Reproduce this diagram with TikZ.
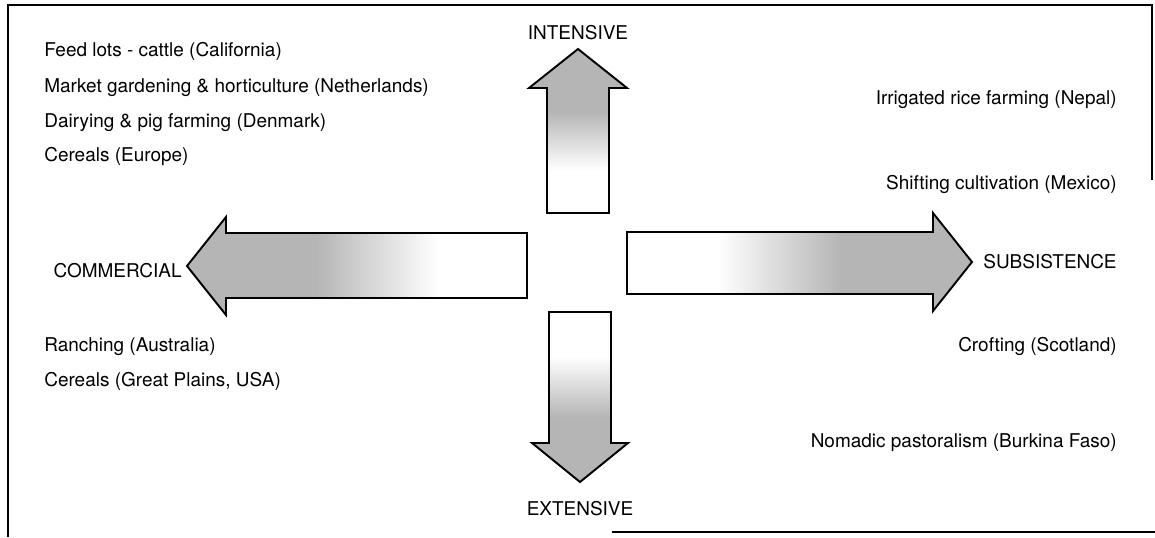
\documentclass[tikz,border=0pt]{standalone}
\usepackage{fontspec}
\setmainfont{TeX Gyre Heros}
\definecolor{stipple}{gray}{0.71}
% white at the tail, grey towards the tip
\pgfdeclarehorizontalshading{fadetip}{100bp}{color(0bp)=(white); color(38bp)=(white); color(56bp)=(stipple); color(100bp)=(stipple)}

\begin{document}
\begin{tikzpicture}[x=0.02cm, y=-0.02cm,
  bigarrow/.style={draw=black, line width=1.1pt, line join=miter, shading=fadetip},
  lbl/.style={inner sep=0pt, font=\fontsize{10.8}{13}\selectfont},
  frameline/.style={line width=1pt}]
\useasboundingbox (0,0) rectangle (1155,537);

% frame
\draw[frameline] (8,537) -- (8,5) -- (1152,5) -- (1152,180);
\draw[frameline] (612,532) -- (1155,532);

% intensive arrow (up)
\shadedraw[bigarrow, shading angle=90] (547,213) -- (547,88) -- (529,88) -- (578,49)
  -- (627,88) -- (609,88) -- (609,213) -- cycle;
% extensive arrow (down)
\shadedraw[bigarrow, shading angle=270] (549,312) -- (549,443) -- (532,443) -- (580,482)
  -- (628,443) -- (611,443) -- (611,312) -- cycle;
% commercial arrow (left)
\shadedraw[bigarrow, shading angle=180] (527,233) -- (226,233) -- (226,217) -- (187,266)
  -- (226,315) -- (226,298) -- (527,298) -- cycle;
% subsistence arrow (right)
\shadedraw[bigarrow] (627,232) -- (933,232) -- (933,213) -- (972,262)
  -- (933,311) -- (933,294) -- (627,294) -- cycle;

% axis labels
\node[lbl, anchor=base] (intensive) at (578,40) {INTENSIVE};
\node[lbl, anchor=base] (extensive) at (580,515) {EXTENSIVE};
\node[lbl, anchor=base east] (commercial) at (182,277) {COMMERCIAL};
\node[lbl, anchor=base west] (subsistence) at (983,268) {SUBSISTENCE};

% intensive commercial
\node[lbl, anchor=base west] (feedlots) at (44,57) {Feed lots - cattle (California)};
\node[lbl, anchor=base west] (market) at (44,92) {Market gardening \& horticulture (Netherlands)};
\node[lbl, anchor=base west] (dairying) at (44,127) {Dairying \& pig farming (Denmark)};
\node[lbl, anchor=base west] (cerealseu) at (44,161) {Cereals (Europe)};

% extensive commercial
\node[lbl, anchor=base west] (ranching) at (44,351) {Ranching (Australia)};
\node[lbl, anchor=base west] (cerealsus) at (44,386) {Cereals (Great Plains, USA)};

% intensive subsistence
\node[lbl, anchor=base east] (rice) at (1117,105) {Irrigated rice farming (Nepal)};
\node[lbl, anchor=base east] (shifting) at (1117,189) {Shifting cultivation (Mexico)};

% extensive subsistence
\node[lbl, anchor=base east] (crofting) at (1117,351) {Crofting (Scotland)};
\node[lbl, anchor=base east] (nomadic) at (1117,447) {Nomadic pastoralism (Burkina Faso)};
\end{tikzpicture}
\end{document}
